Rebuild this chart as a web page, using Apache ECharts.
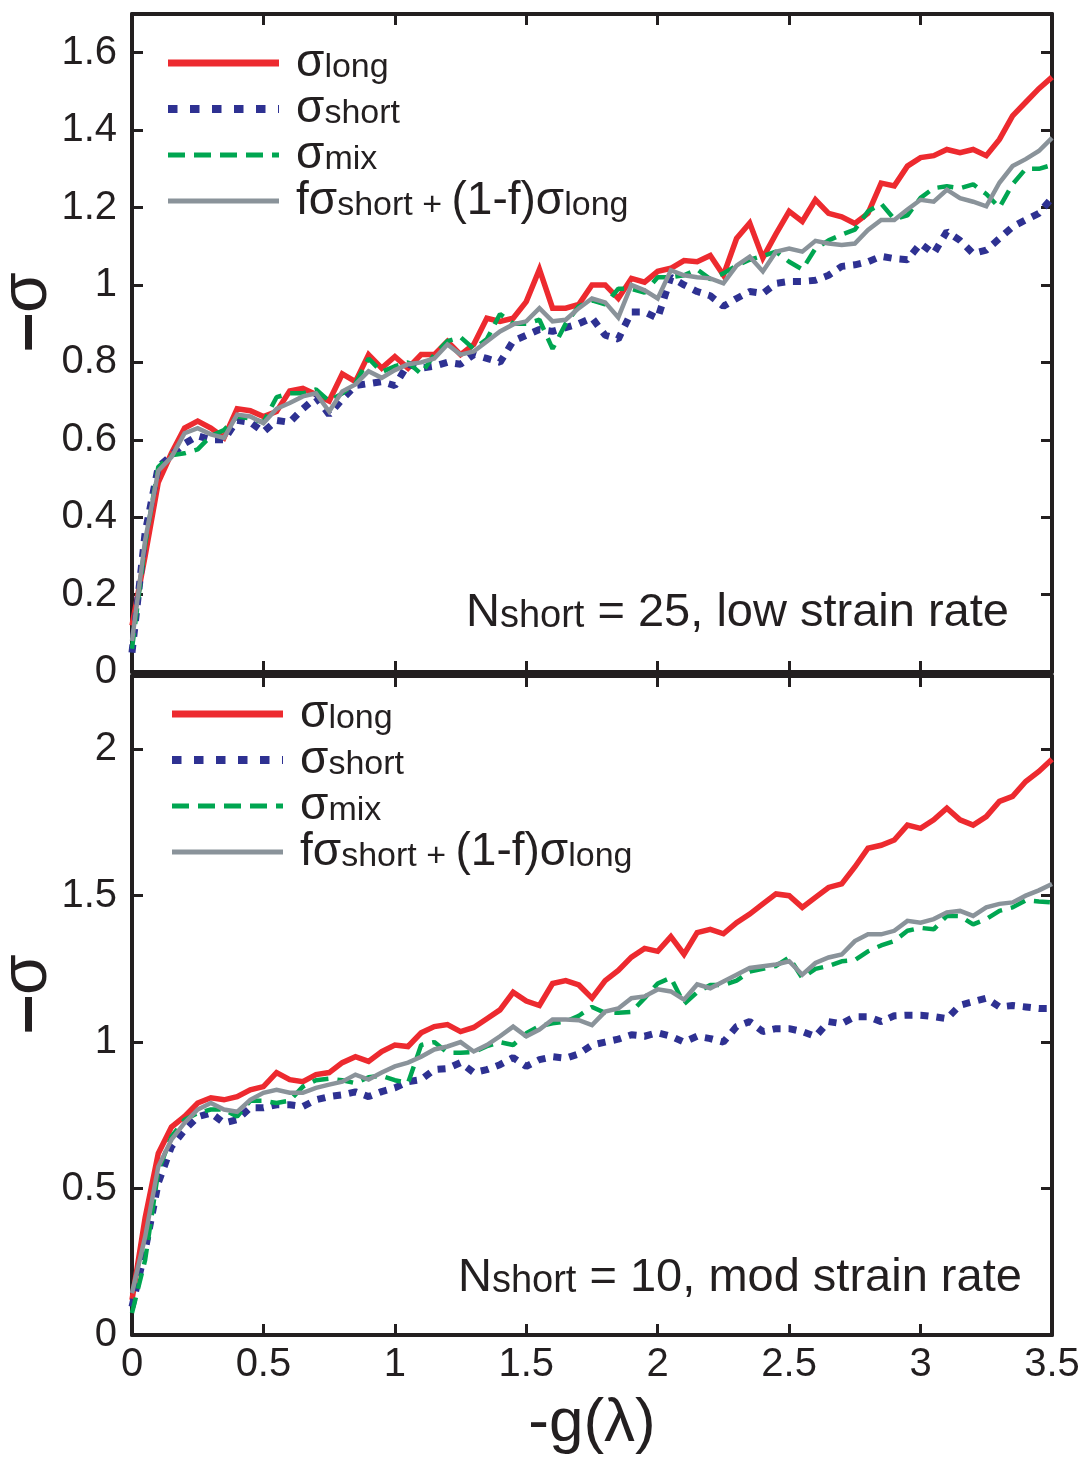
<!DOCTYPE html>
<html><head><meta charset="utf-8">
<script src="https://cdn.jsdelivr.net/npm/echarts@6/dist/echarts.min.js"></script>
<style>html,body{margin:0;padding:0;background:#fff}#c{width:1085px;height:1463px}</style>
</head><body><div id="c"></div>
<script>
const xValues = [0,0.05,0.1,0.15,0.2,0.25,0.3,0.35,0.4,0.45,0.5,0.55,0.6,0.65,0.7,0.75,0.8,0.85,0.9,0.95,1,1.05,1.1,1.15,1.2,1.25,1.3,1.35,1.4,1.45,1.5,1.55,1.6,1.65,1.7,1.75,1.8,1.85,1.9,1.95,2,2.05,2.1,2.15,2.2,2.25,2.3,2.35,2.4,2.45,2.5,2.55,2.6,2.65,2.7,2.75,2.8,2.85,2.9,2.95,3,3.05,3.1,3.15,3.2,3.25,3.3,3.35,3.4,3.45,3.5];

// Top panel: N_short = 25, low strain rate
const topLong = [0.12,0.30,0.49,0.565,0.63,0.648,0.63,0.605,0.68,0.675,0.66,0.673,0.726,0.733,0.717,0.70,0.77,0.75,0.82,0.785,0.815,0.785,0.82,0.82,0.854,0.82,0.846,0.914,0.906,0.914,0.957,1.04,0.94,0.94,0.95,1.0,1.0,0.965,1.017,1.007,1.035,1.043,1.063,1.06,1.076,1.025,1.12,1.16,1.07,1.132,1.19,1.164,1.22,1.185,1.176,1.159,1.185,1.263,1.256,1.307,1.329,1.334,1.35,1.342,1.35,1.334,1.376,1.437,1.472,1.507,1.537];
const topShort = [0.05,0.36,0.53,0.56,0.59,0.61,0.60,0.60,0.65,0.645,0.62,0.65,0.645,0.68,0.71,0.665,0.705,0.74,0.745,0.75,0.74,0.795,0.785,0.79,0.80,0.795,0.82,0.81,0.80,0.855,0.87,0.885,0.88,0.89,0.90,0.915,0.87,0.86,0.93,0.93,0.914,1.02,1.0,0.983,0.972,0.945,0.965,0.983,0.978,1.004,1.009,1.009,1.012,1.025,1.048,1.052,1.06,1.074,1.068,1.065,1.107,1.081,1.138,1.115,1.081,1.09,1.12,1.15,1.168,1.185,1.225];
const topMix = [0.06,0.33,0.53,0.56,0.565,0.575,0.61,0.625,0.66,0.655,0.645,0.71,0.72,0.72,0.73,0.70,0.72,0.745,0.81,0.775,0.79,0.80,0.77,0.82,0.855,0.865,0.835,0.86,0.925,0.90,0.90,0.91,0.835,0.90,0.945,0.96,0.95,0.99,0.99,0.98,1.02,1.02,1.025,1.04,1.015,1.03,1.05,1.065,1.075,1.086,1.06,1.04,1.094,1.115,1.13,1.143,1.19,1.21,1.17,1.18,1.225,1.25,1.255,1.25,1.26,1.235,1.20,1.26,1.30,1.30,1.31];
const topComb = [0.08,0.34,0.52,0.555,0.617,0.63,0.614,0.605,0.665,0.66,0.643,0.68,0.695,0.712,0.72,0.673,0.725,0.743,0.777,0.76,0.78,0.795,0.80,0.81,0.846,0.82,0.828,0.854,0.88,0.898,0.906,0.94,0.906,0.91,0.94,0.965,0.955,0.916,1.0,0.986,0.965,1.038,1.025,1.02,1.017,1.004,1.05,1.073,1.035,1.086,1.094,1.086,1.114,1.107,1.103,1.107,1.142,1.168,1.168,1.195,1.22,1.215,1.246,1.224,1.215,1.203,1.264,1.307,1.325,1.346,1.38];

// Bottom panel: N_short = 10, mod strain rate
const botLong = [0.12,0.40,0.62,0.71,0.746,0.792,0.81,0.803,0.814,0.837,0.848,0.896,0.872,0.865,0.889,0.896,0.93,0.95,0.934,0.968,0.99,0.985,1.032,1.053,1.06,1.036,1.05,1.08,1.11,1.17,1.14,1.125,1.2,1.21,1.195,1.15,1.21,1.245,1.29,1.32,1.31,1.36,1.30,1.374,1.385,1.37,1.408,1.437,1.472,1.506,1.50,1.46,1.494,1.528,1.54,1.598,1.662,1.672,1.69,1.741,1.73,1.759,1.799,1.759,1.741,1.77,1.822,1.839,1.89,1.924,1.966];
const botShort = [0.096,0.29,0.52,0.643,0.70,0.745,0.758,0.724,0.735,0.776,0.776,0.786,0.786,0.78,0.803,0.814,0.82,0.83,0.814,0.831,0.844,0.865,0.872,0.906,0.91,0.93,0.896,0.906,0.923,0.947,0.917,0.94,0.95,0.945,0.96,0.99,1.0,1.01,1.025,1.02,1.032,1.02,1.0,1.02,1.012,1.0,1.053,1.07,1.036,1.046,1.046,1.036,1.019,1.07,1.063,1.087,1.087,1.07,1.09,1.092,1.092,1.087,1.08,1.126,1.138,1.15,1.12,1.125,1.12,1.115,1.115];
const botMix = [0.075,0.256,0.56,0.677,0.735,0.758,0.77,0.77,0.746,0.80,0.80,0.792,0.80,0.848,0.87,0.875,0.87,0.86,0.88,0.885,0.87,0.86,0.99,1.0,0.964,0.964,0.966,0.986,1.0,0.99,1.03,1.055,1.064,1.07,1.09,1.12,1.10,1.10,1.103,1.15,1.20,1.22,1.13,1.17,1.195,1.195,1.21,1.241,1.25,1.26,1.289,1.219,1.25,1.26,1.276,1.28,1.31,1.33,1.345,1.38,1.39,1.385,1.431,1.43,1.402,1.42,1.448,1.46,1.484,1.48,1.477];
const botComb = [0.143,0.335,0.575,0.667,0.724,0.77,0.792,0.77,0.762,0.803,0.827,0.837,0.827,0.827,0.844,0.855,0.865,0.889,0.872,0.896,0.917,0.93,0.95,0.975,0.985,1.0,0.968,0.99,1.02,1.053,1.02,1.043,1.077,1.077,1.075,1.058,1.104,1.115,1.15,1.156,1.18,1.173,1.145,1.197,1.184,1.207,1.23,1.253,1.259,1.265,1.276,1.23,1.27,1.289,1.299,1.345,1.368,1.368,1.38,1.414,1.408,1.42,1.443,1.448,1.431,1.46,1.472,1.477,1.5,1.518,1.54];

const topYAxis = {min: 0, max: 1.7, interval: 0.2};
const botYAxis = {min: 0, max: 2.25, interval: 0.5};
const xAxisRange = {min: 0, max: 3.5, interval: 0.5};
const seriesNames = ['long', 'short', 'mix', 'comb'];
const topNote = ['N', 'short', ' = 25, low strain rate'];
const botNote = ['N', 'short', ' = 10, mod strain rate'];

const FONT = "'Liberation Sans', Arial, Helvetica, sans-serif";
const INK = '#231f20';
const styles = {
  long:  {color: '#ed2a2f', width: 5.5, type: 'solid', join: 'miter'},
  short: {color: '#2e3192', width: 7, type: [8, 8], cap: 'butt'},
  mix:   {color: '#00a651', width: 4.5, type: [16, 9], cap: 'butt'},
  comb:  {color: '#8a939a', width: 4.5, type: 'solid', join: 'miter'}
};
const legendStyles = {
  long:  {color: '#ed2a2f', width: 7, type: 'solid'},
  short: {color: '#2e3192', width: 8, type: [9.5, 12.5], cap: 'butt'},
  mix:   {color: '#00a651', width: 5, type: [17, 9], cap: 'butt'},
  comb:  {color: '#8a939a', width: 5, type: 'solid'}
};
const hiddenSymbol = {color: 'rgba(0,0,0,0)', borderWidth: 0, opacity: 0};

function xAx(grid, pos, labels) {
  return {type: 'value', gridIndex: grid, position: pos, min: xAxisRange.min, max: xAxisRange.max, interval: xAxisRange.interval,
    axisLine: {show: true, onZero: false, lineStyle: {color: INK, width: 4}},
    axisTick: {show: true, inside: true, length: 11, lineStyle: {color: INK, width: 3}},
    axisLabel: {show: labels, fontSize: 40, margin: 10, color: INK, fontFamily: FONT},
    splitLine: {show: false}};
}
function yAx(grid, pos, labels, r) {
  return {type: 'value', gridIndex: grid, position: pos, min: r.min, max: r.max, interval: r.interval,
    axisLine: {show: true, onZero: false, lineStyle: {color: INK, width: 4}},
    axisTick: {show: true, inside: true, length: 11, lineStyle: {color: INK, width: 3}},
    axisLabel: {show: labels, fontSize: 40, margin: 15, color: INK, fontFamily: FONT, showMaxLabel: false},
    splitLine: {show: false}};
}
function mkSeries(name, arr, xi, yi) {
  return {name: name, type: 'line', xAxisIndex: xi, yAxisIndex: yi, symbol: 'none', showSymbol: false,
    data: xValues.map((x, i) => [x, arr[i]]), lineStyle: styles[name],
    itemStyle: {color: styles[name].color}, emphasis: {disabled: true},
    z: 2 + seriesNames.indexOf(name)};
}
const legendLabel = {
  long:  '{g| }{s|σ}{b|long}',
  short: '{g| }{s|σ}{b|short}',
  mix:   '{g| }{s|σ}{b|mix}',
  comb:  '{g| }{s|fσ}{b|short + }{s|(1-f)σ}{b|long}'
};
const legendRich = {
  g: {width: 12, fontSize: 46, lineHeight: 44},
  s: {fontSize: 46, lineHeight: 44, verticalAlign: 'middle', fontFamily: FONT, color: INK},
  b: {fontSize: 34, lineHeight: 27, verticalAlign: 'bottom', fontFamily: FONT, color: INK}
};
function mkLegend(left, top) {
  return {left: left, top: top, orient: 'vertical', padding: 0, itemGap: 0, itemWidth: 111, itemHeight: 20,
    selectedMode: false, itemStyle: hiddenSymbol,
    data: seriesNames.map(n => ({name: n, lineStyle: legendStyles[n], itemStyle: hiddenSymbol})),
    formatter: n => legendLabel[n],
    textStyle: {fontSize: 46, lineHeight: 44, fontFamily: FONT, color: INK, rich: legendRich}};
}
const noteRich = {
  n: {fontSize: 47, lineHeight: 46, verticalAlign: 'middle', fontFamily: FONT, fill: INK, color: INK},
  b: {fontSize: 38, lineHeight: 24, verticalAlign: 'bottom', fontFamily: FONT, fill: INK, color: INK}
};
function noteText(parts, x, y) {
  return {type: 'text', x: x, y: y, z: 10, style: {
    text: '{n|' + parts[0] + '}{b|' + parts[1] + '}{n|' + parts[2] + '}',
    rich: noteRich, fill: INK, font: '47px ' + FONT, align: 'left', verticalAlign: 'middle'}};
}
const titleRich = {
  d: {fontSize: 70, fontWeight: 'bold', fontFamily: FONT, fill: INK, color: INK, lineHeight: 66},
  s: {fontSize: 66, fontFamily: FONT, fill: INK, color: INK, lineHeight: 66}
};
function yTitle(x, y) {
  return {type: 'text', x: x, y: y, rotation: Math.PI / 2, z: 10, style: {
    text: '{d|–}{s|σ}', rich: titleRich, fill: INK, font: '66px ' + FONT, align: 'center', verticalAlign: 'middle'}};
}

const chart = echarts.init(document.getElementById('c'), null, {renderer: 'canvas'});
chart.setOption({
  animation: false,
  backgroundColor: '#ffffff',
  grid: [
    {left: 132, right: 33, top: 14, height: 658},
    {left: 132, right: 33, top: 676, height: 659}
  ],
  xAxis: [xAx(0, 'bottom', false), xAx(0, 'top', false), xAx(1, 'bottom', true), xAx(1, 'top', false)],
  yAxis: [yAx(0, 'left', true, topYAxis), yAx(0, 'right', false, topYAxis), yAx(1, 'left', true, botYAxis), yAx(1, 'right', false, botYAxis)],
  legend: [mkLegend(164, 40), mkLegend(168, 691)],
  series: [
    mkSeries('long', topLong, 0, 0), mkSeries('short', topShort, 0, 0), mkSeries('mix', topMix, 0, 0), mkSeries('comb', topComb, 0, 0),
    mkSeries('long', botLong, 2, 2), mkSeries('short', botShort, 2, 2), mkSeries('mix', botMix, 2, 2), mkSeries('comb', botComb, 2, 2)
  ],
  graphic: [
    noteText(topNote, 466, 613),
    noteText(botNote, 458, 1278),
    yTitle(28, 312),
    yTitle(28, 994),
    {type: 'text', x: 592, y: 1424, z: 10, style: {text: '-g(λ)', fill: INK, font: '62px ' + FONT, align: 'center', verticalAlign: 'middle'}}
  ]
});
</script>
</body></html>
